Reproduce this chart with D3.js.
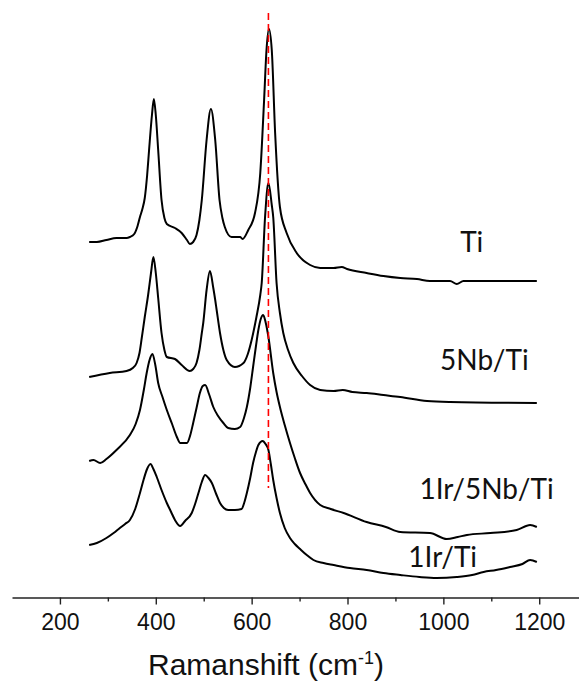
<!DOCTYPE html>
<html>
<head>
<meta charset="utf-8">
<script src="https://cdn.jsdelivr.net/npm/d3@7.9.0/dist/d3.min.js"></script>
<style>
  body { margin: 0; background: #fff; }
  svg { display: block; }
</style>
</head>
<body>
<svg id="chart" width="579" height="682"></svg>
<script>
// spectra: [Raman shift (cm-1), stacked intensity (a.u.)]
const tiSpectrum = [
  [261, 358], [277, 358], [297, 360], [318, 362], [339, 362], [346, 363], [355, 366],
  [362, 374], [367, 383], [372, 391], [377, 402], [382, 425], [386, 450], [392, 485],
  [396, 501], [400, 485], [405, 450], [412, 400], [418, 382], [423, 376], [440, 372],
  [454, 367], [465, 360], [471, 356], [478, 358], [485, 365], [491, 380], [496, 400],
  [506, 460], [515, 491], [524, 460], [533, 400], [539, 382], [544, 373], [558, 363],
  [576, 363], [581, 361], [593, 370], [607, 387], [618, 427], [626, 500], [631, 550],
  [636, 571], [642, 550], [649, 467], [659, 393], [673, 367], [694, 347], [722, 335],
  [743, 332], [771, 332], [788, 333], [799, 331], [840, 327], [875, 324], [910, 322],
  [945, 321], [972, 319], [1014, 319], [1028, 316], [1042, 319], [1084, 319],
  [1140, 319], [1195, 319]
];

const nbTiSpectrum = [
  [261, 223], [304, 227], [339, 229], [352, 232], [360, 237], [366, 247], [371, 263],
  [377, 283], [384, 305], [390, 327], [395, 343], [400, 327], [405, 302], [412, 267],
  [418, 250], [423, 243], [440, 241], [454, 235], [471, 229], [478, 231], [485, 237],
  [491, 250], [496, 267], [499, 277], [506, 310], [513, 329], [520, 312], [524, 300],
  [527, 290], [534, 267], [541, 250], [548, 240], [565, 233], [583, 237], [592, 246],
  [600, 260], [610, 283], [618, 305], [621, 317], [628, 383], [635, 417], [642, 395],
  [645, 383], [652, 317], [659, 287], [666, 267], [676, 250], [687, 237], [705, 224],
  [722, 215], [743, 210], [771, 209], [790, 210], [810, 208], [840, 207], [875, 205],
  [910, 203], [966, 199], [1014, 198], [1195, 197]
];

const irNbTiSpectrum = [
  [261, 139], [270, 140], [284, 137], [297, 141], [318, 150], [346, 165], [358, 176],
  [367, 190], [375, 210], [381, 227], [387, 240], [393, 246], [399, 235], [405, 217],
  [414, 203], [423, 190], [434, 176], [444, 163], [451, 157], [465, 157], [472, 165],
  [478, 177], [485, 192], [492, 207], [498, 214], [503, 215], [511, 206], [520, 193],
  [530, 184], [541, 177], [551, 172], [565, 171], [576, 173], [584, 182], [590, 193],
  [597, 212], [603, 233], [609, 254], [614, 270], [619, 281], [624, 285], [629, 278],
  [635, 263], [645, 227], [652, 208], [659, 193], [669, 175], [680, 157], [690, 142],
  [701, 127], [712, 116], [722, 107], [743, 95], [765, 91], [792, 87], [840, 78],
  [880, 73], [910, 68], [972, 67], [1007, 61], [1030, 63], [1049, 65], [1098, 67],
  [1153, 70], [1181, 75], [1195, 73]
];

const irTiSpectrum = [
  [261, 55], [277, 57], [297, 62], [312, 67], [325, 72], [336, 76], [346, 80],
  [357, 91], [367, 107], [375, 121], [381, 130], [389, 136], [395, 131], [402, 123],
  [412, 110], [423, 97], [432, 88], [440, 80], [451, 74], [461, 79], [475, 87],
  [482, 96], [489, 107], [496, 118], [503, 125], [510, 122], [517, 117], [526, 106],
  [534, 97], [542, 92], [551, 90], [565, 90], [579, 91], [585, 98], [590, 107],
  [597, 122], [603, 137], [609, 148], [614, 155], [623, 159], [629, 156], [635, 150],
  [640, 136], [645, 120], [652, 102], [659, 87], [669, 72], [680, 62], [690, 56],
  [701, 51], [715, 45], [729, 40], [750, 37], [771, 35], [805, 32], [840, 30],
  [875, 27], [910, 25], [950, 23], [986, 22], [1028, 23], [1060, 25], [1084, 28],
  [1110, 30], [1139, 33], [1165, 36], [1181, 40], [1195, 38]
];

const spectra = [tiSpectrum, nbTiSpectrum, irNbTiSpectrum, irTiSpectrum];

// sample labels: [text, left edge shift (cm-1), baseline intensity]
const sampleLabels = [
  ['Ti', 1035, 348],
  ['5Nb/Ti', 993, 230],
  ['1Ir/5Nb/Ti', 950, 101],
  ['1Ir/Ti', 927, 33]
];

const majorTicks = [200, 400, 600, 800, 1000, 1200];
const minorTicks = [300, 500, 700, 900, 1100];
const referenceShift = 635;
const referenceRange = [112, 587];

const svg = d3.select('#chart');

const x = d3.scaleLinear().domain([100, 1283]).range([12, 579]);
const y = d3.scaleLinear().domain([0, 600]).range([600, 0]);
const axisY = 597.5;

/*axis*/
const gx = svg.append('g').attr('transform', `translate(0,${axisY})`);
gx.call(d3.axisBottom(x).tickValues(majorTicks).tickFormat(d3.format('d'))
  .tickSize(7).tickSizeOuter(0).tickPadding(9));
gx.attr('font-family', '"Liberation Sans", Arial, sans-serif');
gx.select('.domain').attr('stroke', '#222').attr('stroke-width', 1.6);
gx.selectAll('.tick line').attr('stroke', '#222').attr('stroke-width', 1.4);
gx.selectAll('.tick text').attr('font-size', 23).attr('fill', '#111');

const gm = svg.append('g').attr('transform', `translate(0,${axisY})`);
gm.call(d3.axisBottom(x).tickValues(minorTicks).tickSize(4).tickFormat(''));
gm.select('.domain').remove();
gm.selectAll('.tick line').attr('stroke', '#222').attr('stroke-width', 1.4);

const title = svg.append('text')
  .attr('x', 266).attr('y', 675)
  .attr('text-anchor', 'middle')
  .attr('font-family', '"Liberation Sans", Arial, sans-serif')
  .attr('font-size', 30)
  .attr('fill', '#111');
title.append('tspan').text('Ramanshift (cm');
title.append('tspan').attr('font-size', 18).attr('dy', -11).text('-1');
title.append('tspan').attr('dy', 11).text(')');

/*spectra*/
const line = d3.line()
  .x(d => x(d[0]))
  .y(d => y(d[1]))
  .curve(d3.curveMonotoneX);

svg.append('g')
  .selectAll('path')
  .data(spectra)
  .join('path')
  .attr('d', line)
  .attr('fill', 'none')
  .attr('stroke', '#000')
  .attr('stroke-width', 2)
  .attr('stroke-linejoin', 'round');

/*reference line*/
svg.append('line')
  .attr('x1', x(referenceShift)).attr('x2', x(referenceShift))
  .attr('y1', y(referenceRange[1])).attr('y2', y(referenceRange[0]))
  .attr('stroke', '#f00')
  .attr('stroke-width', 1.6)
  .attr('stroke-dasharray', '7,4');

/*labels*/
svg.append('g')
  .selectAll('text')
  .data(sampleLabels)
  .join('text')
  .attr('x', d => x(d[1]))
  .attr('y', d => y(d[2]))
  .attr('font-family', 'Lato, "Open Sans", sans-serif')
  .attr('font-size', 28)
  .attr('fill', '#111')
  .text(d => d[0]);
</script>
</body>
</html>
